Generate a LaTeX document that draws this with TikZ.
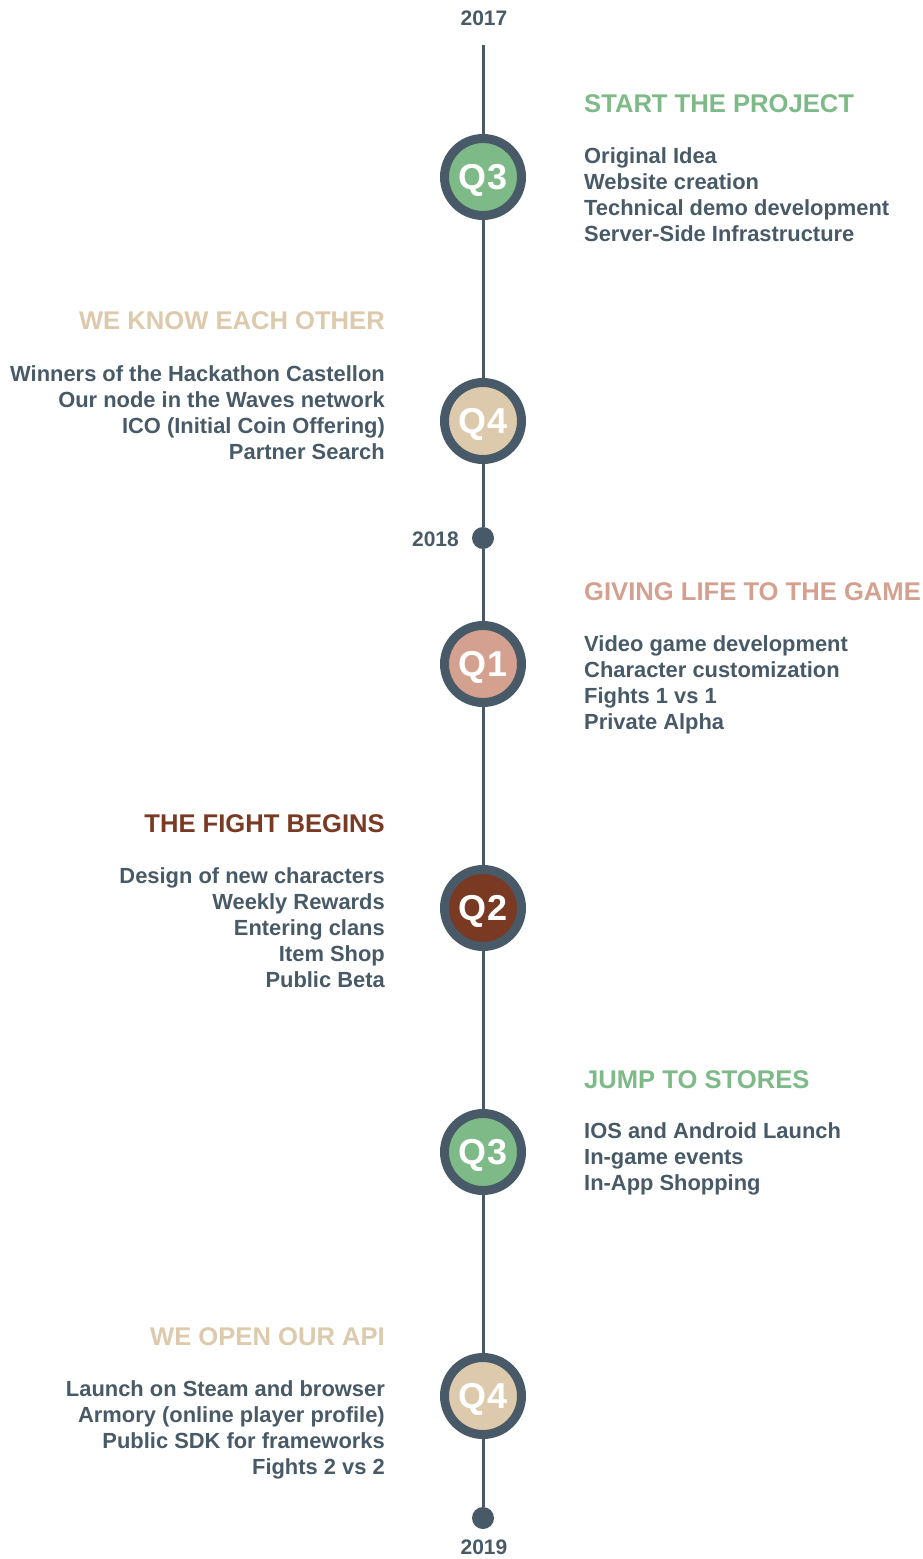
\documentclass[tikz,border=0pt]{standalone}
\usepackage{fontspec}
\setmainfont{Liberation Sans}
\definecolor{slate}{RGB}{72,90,103}
\definecolor{mgreen}{RGB}{125,186,135}
\definecolor{mtan}{RGB}{221,202,172}
\definecolor{msalmon}{RGB}{212,161,144}
\definecolor{mbrown}{RGB}{122,57,35}
\tikzset{
  quarter/.style={circle, draw=slate, line width=9pt, minimum size=77pt, inner sep=0pt,
    text=white, text depth=0pt, font=\fontsize{36}{36}\selectfont\bfseries},
  yeardot/.style={circle, fill=slate, minimum size=22pt, inner sep=0pt},
  year/.style={text=slate, font=\fontsize{21}{21}\selectfont\bfseries, inner sep=0pt},
  heading/.style={font=\fontsize{25.6}{25.6}\selectfont\bfseries, inner sep=0pt},
  items/.style={text=slate, font=\fontsize{21.9}{26}\selectfont\bfseries, inner sep=0pt},
  rightcol/.style={anchor=base west},
  leftcol/.style={anchor=base east},
  spine/.style={draw=slate, line width=3pt}
}
\begin{document}
\begin{tikzpicture}[x=1pt,y=-1pt]
\useasboundingbox (0,0) rectangle (922,1559);
% years and timeline anchors
\node[year, anchor=base] (t2017) at (484,25) {2017};
\coordinate (top) at (483,45);
\node[yeardot] (y2018) at (483,538) {};
\node[year, anchor=base east] (t2018) at (459,546) {2018};
\node[yeardot] (y2019) at (483,1518) {};
\node[year, anchor=base] (t2019) at (484,1554) {2019};
% quarters
\node[quarter, fill=mgreen]  (a) at (483,177)  {Q3};
\node[quarter, fill=mtan]    (b) at (483,421)  {Q4};
\node[quarter, fill=msalmon] (c) at (483,664)  {Q1};
\node[quarter, fill=mbrown]  (d) at (483,908)  {Q2};
\node[quarter, fill=mgreen]  (e) at (483,1152) {Q3};
\node[quarter, fill=mtan]    (f) at (483,1396) {Q4};
% spine
\draw[spine] (top) -- (a);
\draw[spine] (a) -- (b);
\draw[spine] (b) -- (y2018);
\draw[spine] (y2018) -- (c);
\draw[spine] (c) -- (d);
\draw[spine] (d) -- (e);
\draw[spine] (e) -- (f);
\draw[spine] (f) -- (y2019);
% item blocks are anchored at the baseline of their last line
% 2017 Q3
\node[heading, rightcol, text=mgreen] (ha) at (584,112) {START THE PROJECT};
\node[items, rightcol, align=left] (ia) at (584,241) {Original Idea\\Website creation\\Technical demo development\\Server-Side Infrastructure};
% 2017 Q4
\node[heading, leftcol, text=mtan] (hb) at (385,329) {WE KNOW EACH OTHER};
\node[items, leftcol, align=right] (ib) at (385,459) {Winners of the Hackathon Castellon\\Our node in the Waves network\\ICO (Initial Coin Offering)\\Partner Search};
% 2018 Q1
\node[heading, rightcol, text=msalmon] (hc) at (584,600) {GIVING LIFE TO THE GAME};
\node[items, rightcol, align=left] (ic) at (584,729) {Video game development\\Character customization\\Fights 1 vs 1\\Private Alpha};
% 2018 Q2
\node[heading, leftcol, text=mbrown] (hd) at (385,832) {THE FIGHT BEGINS};
\node[items, leftcol, align=right] (id) at (385,987) {Design of new characters\\Weekly Rewards\\Entering clans\\Item Shop\\Public Beta};
% 2018 Q3
\node[heading, rightcol, text=mgreen] (he) at (584,1088) {JUMP TO STORES};
\node[items, rightcol, align=left] (ie) at (584,1190) {IOS and Android Launch\\In-game events\\In-App Shopping};
% 2018 Q4
\node[heading, leftcol, text=mtan] (hf) at (385,1345) {WE OPEN OUR API};
\node[items, leftcol, align=right] (if) at (385,1474) {Launch on Steam and browser\\Armory (online player profile)\\Public SDK for frameworks\\Fights 2 vs 2};
\end{tikzpicture}
\end{document}
